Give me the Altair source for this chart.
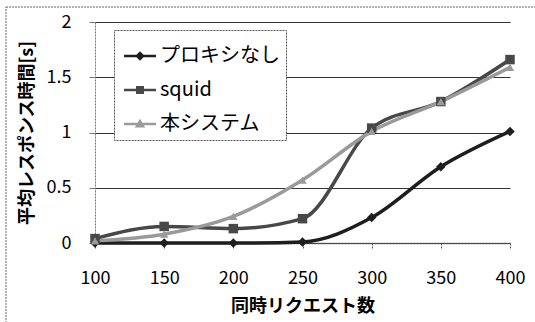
import altair as alt
import pandas as pd

requests = [100, 150, 200, 250, 300, 350, 400]
series_names = ["プロキシなし", "squid", "本システム"]
no_proxy = [0.0, 0.0, 0.0, 0.01, 0.23, 0.69, 1.01]
squid = [0.04, 0.15, 0.13, 0.22, 1.04, 1.28, 1.66]
this_system = [0.02, 0.08, 0.24, 0.57, 1.01, 1.28, 1.59]
marker_shapes = ["diamond", "square", "triangle-up"]

rows = []
for name, vals in zip(series_names, [no_proxy, squid, this_system]):
    for r, v in zip(requests, vals):
        rows.append({"req": r, "val": v, "series": name})
df = pd.DataFrame(rows)

FONT = "Noto Sans CJK JP"
colors = ["#1e1e1e", "#484848", "#9a9a9a"]
legend_paths = [
    "M-0.8,-0.06H0.8V0.06H-0.8Z M0,-0.24L0.24,0L0,0.24L-0.24,0Z",
    "M-0.8,-0.06H0.8V0.06H-0.8Z M-0.2,-0.2H0.2V0.2H-0.2Z",
    "M-0.8,-0.06H0.8V0.06H-0.8Z M0,-0.26L0.26,0.18H-0.26Z",
]

leg = alt.Legend(
    title=None,
    orient="none",
    legendX=19,
    legendY=8,
    direction="vertical",
    labelFont=FONT,
    labelFontSize=20,
    labelColor="#000",
    symbolSize=1600,
    symbolStrokeWidth=0,
    symbolOpacity=1,
    rowPadding=4,
    padding=6,
    labelOffset=0,
    strokeColor="#555",
    fillColor="white",
)

color_scale = alt.Scale(domain=series_names, range=colors)

x = alt.X(
    "req:Q",
    scale=alt.Scale(domain=[100, 400], nice=False, zero=False),
    axis=alt.Axis(
        values=requests,
        title="同時リクエスト数",
        titleFont=FONT,
        titleFontSize=18,
        titleFontWeight="bold",
        titleColor="#000",
        titlePadding=10,
        labelFont=FONT,
        labelFontSize=18,
        labelColor="#000",
        labelPadding=20,
        labelFlush=False,
        grid=False,
        domainColor="#555",
        domainWidth=1.5,
        domainDash=[2, 1],
        tickColor="#555",
        tickSize=6,
        tickDash=[2, 1],
    ),
)
y = alt.Y(
    "val:Q",
    scale=alt.Scale(domain=[0, 2], nice=False),
    axis=alt.Axis(
        values=[0, 0.5, 1, 1.5, 2],
        format="~g",
        title="平均レスポンス時間[s]",
        titleFont=FONT,
        titleFontSize=18,
        titleFontWeight="bold",
        titleColor="#000",
        titlePadding=10,
        labelFont=FONT,
        labelFontSize=18,
        labelColor="#000",
        labelPadding=18,
        labelFlush=False,
        gridColor="#333",
        gridWidth=1,
        domainColor="#777",
        domainDash=[2, 1],
        tickSize=6,
        tickColor="#777",
    ),
)

lines = alt.Chart(df).mark_line(strokeWidth=3.5, interpolate="monotone").encode(
    x=x, y=y, color=alt.Color("series:N", scale=color_scale)
)

point_layers = []
for name, shp in zip(series_names, marker_shapes):
    point_layers.append(
        alt.Chart(df)
        .transform_filter(alt.datum.series == name)
        .mark_point(filled=True, size=90 if shp != "triangle-up" else 70, opacity=1, shape=shp)
        .encode(x="req:Q", y="val:Q", color=alt.Color("series:N"))
    )

legend_layer = alt.Chart(df).mark_point(filled=True, opacity=0).encode(
    x="req:Q",
    y="val:Q",
    color=alt.Color("series:N", sort=series_names, legend=leg),
    shape=alt.Shape(
        "series:N",
        sort=series_names,
        scale=alt.Scale(domain=series_names, range=legend_paths),
        legend=leg,
    ),
)

border = alt.Chart(pd.DataFrame({"a": [0]})).mark_rect(
    fill=None, stroke="#666", strokeDash=[2, 1], strokeWidth=1
).encode(
    x=alt.value(-89), x2=alt.value(520), y=alt.value(-15), y2=alt.value(320)
)

chart = (
    alt.layer(border, lines, *point_layers, legend_layer)
    .properties(
        width=415,
        height=221,
        autosize=alt.AutoSizeParams(type="none"),
        padding={"left": 95, "top": 22, "right": 25, "bottom": 79},
        background="white",
    )
    .configure_view(stroke=None)
    .configure_legend(strokeDash=[2, 1])
)

chart.save("out.html", embed_options={"renderer": "svg", "actions": False})
